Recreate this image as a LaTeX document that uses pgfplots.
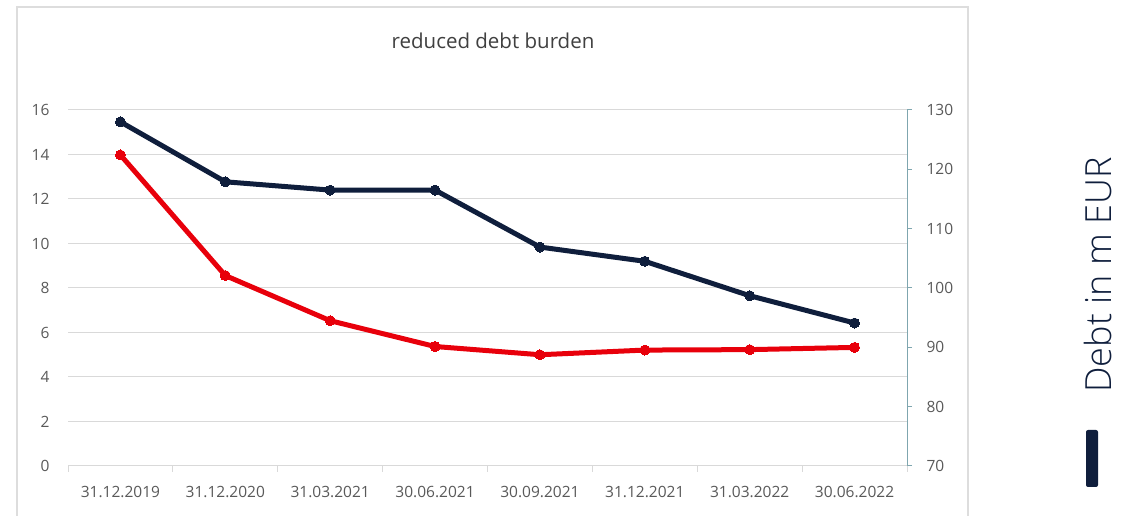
\documentclass[border=0pt]{standalone}
\usepackage{pgfplots}
\pgfplotsset{compat=1.18}
\usepackage{fontspec}
\setmainfont{Open Sans}
\newfontfamily\lightfont{Open Sans Light}
\definecolor{navy}{HTML}{0F1E3C}
\definecolor{redl}{HTML}{E8000B}
\definecolor{gridc}{HTML}{D9D9D9}
\definecolor{tickc}{HTML}{595959}
\definecolor{raxis}{HTML}{7FA6AF}
\definecolor{framec}{HTML}{DDDDDD}
\definecolor{titlec}{HTML}{404040}
\begin{document}
\begin{tikzpicture}[x=1pt,y=1pt]
\useasboundingbox (0,0) rectangle (1132,516);
\draw[framec, line width=1.2pt] (17,0) -- (17,509) -- (968,509) -- (968,0);
\node[font=\fontsize{20.5}{24}\selectfont, text=titlec] at (493,475) {reduced debt burden};

\begin{axis}[
  at={(68pt,50pt)}, anchor=south west,
  scale only axis, width=839pt, height=356pt,
  xmin=-0.5, xmax=7.5, ymin=0, ymax=16,
  ytick={0,2,...,16},
  xtick={0,...,7},
  xticklabels={31.12.2019,31.12.2020,31.03.2021,30.06.2021,30.09.2021,31.12.2021,31.03.2022,30.06.2022},
  minor xtick={-0.5,0.5,...,7.5},
  axis x line*=bottom, axis y line*=left,
  y axis line style={draw=none},
  x axis line style={gridc, line width=1pt, -},
  tick align=outside,
  major tick length=0pt, minor tick length=6pt,
  minor tick style={gridc, line width=1pt},
  ymajorgrids, grid style={gridc, line width=1pt},
  /pgf/number format/assume math mode=true,
  ticklabel style={font=\fontsize{15.5}{18}\selectfont, text=tickc},
  yticklabel style={xshift=-15pt},
  xticklabel style={yshift=-17pt},
  clip=false,
]
\addplot[redl, line width=5pt, mark=*, mark size=5pt, mark options={fill=redl, draw=redl, line width=0pt}]
  coordinates {(0,13.98) (1,8.56) (2,6.53) (3,5.37) (4,5.0) (5,5.21) (6,5.23) (7,5.33)};
\end{axis}

\begin{axis}[
  at={(68pt,50pt)}, anchor=south west,
  scale only axis, width=839pt, height=356pt,
  xmin=-0.5, xmax=7.5, ymin=70, ymax=130,
  ytick={70,80,...,130},
  axis y line*=right, axis x line=none,
  y axis line style={raxis, line width=1pt, -},
  ytick style={raxis, line width=1pt},
  tick align=outside, major tick length=5pt,
  /pgf/number format/assume math mode=true,
  ticklabel style={font=\fontsize{15.5}{18}\selectfont, text=tickc},
  yticklabel style={xshift=11pt},
  clip=false,
]
\addplot[navy, line width=5pt, mark=*, mark size=5pt, mark options={fill=navy, draw=navy, line width=0pt}]
  coordinates {(0,128.0) (1,117.9) (2,116.5) (3,116.5) (4,106.9) (5,104.5) (6,98.7) (7,94.1)};
\end{axis}

\node[rotate=90, font=\lightfont\fontsize{36}{40}\selectfont, text=navy] at (1098,241) {Debt in m EUR};
\fill[navy, rounded corners=2pt] (1086,29) rectangle (1098,86);
\end{tikzpicture}
\end{document}
